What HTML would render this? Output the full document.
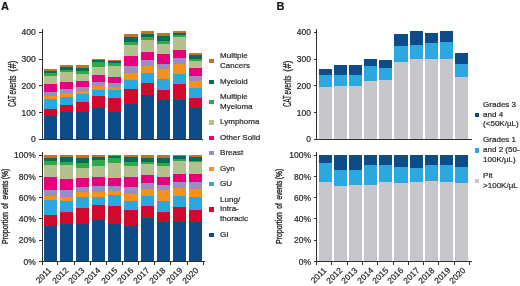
<!DOCTYPE html>
<html><head><meta charset="utf-8"><style>
html,body{margin:0;padding:0;background:#fff;}
body{width:520px;height:286px;position:relative;overflow:hidden;font-family:"Liberation Sans", sans-serif;}
#w{position:absolute;left:0;top:0;width:520px;height:286px;filter:blur(0.6px);}
#w>div{position:absolute;}
.t{font-size:8px;line-height:9.6px;color:#252525;white-space:nowrap;-webkit-text-stroke:0.2px #252525;}
</style></head><body><div id="w">
<div style="left:44.00px;top:69.05px;width:13.10px;height:70.25px;background:#c1722b;"></div>
<div style="left:44.00px;top:70.90px;width:13.10px;height:68.40px;background:#086a58;"></div>
<div style="left:44.00px;top:72.60px;width:13.10px;height:66.70px;background:#2fa84a;"></div>
<div style="left:44.00px;top:75.60px;width:13.10px;height:63.70px;background:#b4c18e;"></div>
<div style="left:44.00px;top:83.90px;width:13.10px;height:55.40px;background:#e5007d;"></div>
<div style="left:44.00px;top:92.00px;width:13.10px;height:47.30px;background:#998dc2;"></div>
<div style="left:44.00px;top:95.60px;width:13.10px;height:43.70px;background:#f5921e;"></div>
<div style="left:44.00px;top:98.80px;width:13.10px;height:40.50px;background:#2aa8df;"></div>
<div style="left:44.00px;top:108.60px;width:13.10px;height:30.70px;background:#d10a2d;"></div>
<div style="left:44.00px;top:115.90px;width:13.10px;height:23.40px;background:#0e4c89;"></div>
<div style="left:60.20px;top:64.70px;width:12.80px;height:74.60px;background:#c1722b;"></div>
<div style="left:60.20px;top:66.50px;width:12.80px;height:72.80px;background:#086a58;"></div>
<div style="left:60.20px;top:69.70px;width:12.80px;height:69.60px;background:#2fa84a;"></div>
<div style="left:60.20px;top:71.80px;width:12.80px;height:67.50px;background:#b4c18e;"></div>
<div style="left:60.20px;top:81.60px;width:12.80px;height:57.70px;background:#e5007d;"></div>
<div style="left:60.20px;top:89.20px;width:12.80px;height:50.10px;background:#998dc2;"></div>
<div style="left:60.20px;top:93.40px;width:12.80px;height:45.90px;background:#f5921e;"></div>
<div style="left:60.20px;top:97.00px;width:12.80px;height:42.30px;background:#2aa8df;"></div>
<div style="left:60.20px;top:104.60px;width:12.80px;height:34.70px;background:#d10a2d;"></div>
<div style="left:60.20px;top:112.40px;width:12.80px;height:26.90px;background:#0e4c89;"></div>
<div style="left:76.10px;top:65.20px;width:13.30px;height:74.10px;background:#c1722b;"></div>
<div style="left:76.10px;top:67.50px;width:13.30px;height:71.80px;background:#086a58;"></div>
<div style="left:76.10px;top:70.90px;width:13.30px;height:68.40px;background:#2fa84a;"></div>
<div style="left:76.10px;top:74.10px;width:13.30px;height:65.20px;background:#b4c18e;"></div>
<div style="left:76.10px;top:81.40px;width:13.30px;height:57.90px;background:#e5007d;"></div>
<div style="left:76.10px;top:87.30px;width:13.30px;height:52.00px;background:#998dc2;"></div>
<div style="left:76.10px;top:90.80px;width:13.30px;height:48.50px;background:#f5921e;"></div>
<div style="left:76.10px;top:94.30px;width:13.30px;height:45.00px;background:#2aa8df;"></div>
<div style="left:76.10px;top:102.10px;width:13.30px;height:37.20px;background:#d10a2d;"></div>
<div style="left:76.10px;top:112.40px;width:13.30px;height:26.90px;background:#0e4c89;"></div>
<div style="left:92.00px;top:58.80px;width:13.10px;height:80.50px;background:#c1722b;"></div>
<div style="left:92.00px;top:59.80px;width:13.10px;height:79.50px;background:#086a58;"></div>
<div style="left:92.00px;top:62.30px;width:13.10px;height:77.00px;background:#2fa84a;"></div>
<div style="left:92.00px;top:67.00px;width:13.10px;height:72.30px;background:#b4c18e;"></div>
<div style="left:92.00px;top:75.20px;width:13.10px;height:64.10px;background:#e5007d;"></div>
<div style="left:92.00px;top:82.20px;width:13.10px;height:57.10px;background:#998dc2;"></div>
<div style="left:92.00px;top:86.40px;width:13.10px;height:52.90px;background:#f5921e;"></div>
<div style="left:92.00px;top:90.40px;width:13.10px;height:48.90px;background:#2aa8df;"></div>
<div style="left:92.00px;top:96.00px;width:13.10px;height:43.30px;background:#d10a2d;"></div>
<div style="left:92.00px;top:107.70px;width:13.10px;height:31.60px;background:#0e4c89;"></div>
<div style="left:107.80px;top:60.10px;width:13.40px;height:79.20px;background:#c1722b;"></div>
<div style="left:107.80px;top:61.30px;width:13.40px;height:78.00px;background:#086a58;"></div>
<div style="left:107.80px;top:62.60px;width:13.40px;height:76.70px;background:#2fa84a;"></div>
<div style="left:107.80px;top:66.10px;width:13.40px;height:73.20px;background:#b4c18e;"></div>
<div style="left:107.80px;top:77.10px;width:13.40px;height:62.20px;background:#e5007d;"></div>
<div style="left:107.80px;top:83.20px;width:13.40px;height:56.10px;background:#998dc2;"></div>
<div style="left:107.80px;top:86.60px;width:13.40px;height:52.70px;background:#f5921e;"></div>
<div style="left:107.80px;top:90.00px;width:13.40px;height:49.30px;background:#2aa8df;"></div>
<div style="left:107.80px;top:97.90px;width:13.40px;height:41.40px;background:#d10a2d;"></div>
<div style="left:107.80px;top:112.00px;width:13.40px;height:27.30px;background:#0e4c89;"></div>
<div style="left:124.00px;top:34.30px;width:13.70px;height:105.00px;background:#c1722b;"></div>
<div style="left:124.00px;top:37.40px;width:13.70px;height:101.90px;background:#086a58;"></div>
<div style="left:124.00px;top:41.60px;width:13.70px;height:97.70px;background:#2fa84a;"></div>
<div style="left:124.00px;top:45.10px;width:13.70px;height:94.20px;background:#b4c18e;"></div>
<div style="left:124.00px;top:56.00px;width:13.70px;height:83.30px;background:#e5007d;"></div>
<div style="left:124.00px;top:66.10px;width:13.70px;height:73.20px;background:#998dc2;"></div>
<div style="left:124.00px;top:73.30px;width:13.70px;height:66.00px;background:#f5921e;"></div>
<div style="left:124.00px;top:79.60px;width:13.70px;height:59.70px;background:#2aa8df;"></div>
<div style="left:124.00px;top:89.10px;width:13.70px;height:50.20px;background:#d10a2d;"></div>
<div style="left:124.00px;top:103.80px;width:13.70px;height:35.50px;background:#0e4c89;"></div>
<div style="left:140.80px;top:31.40px;width:13.00px;height:107.90px;background:#c1722b;"></div>
<div style="left:140.80px;top:34.00px;width:13.00px;height:105.30px;background:#086a58;"></div>
<div style="left:140.80px;top:37.40px;width:13.00px;height:101.90px;background:#2fa84a;"></div>
<div style="left:140.80px;top:39.60px;width:13.00px;height:99.70px;background:#b4c18e;"></div>
<div style="left:140.80px;top:51.90px;width:13.00px;height:87.40px;background:#e5007d;"></div>
<div style="left:140.80px;top:59.90px;width:13.00px;height:79.40px;background:#998dc2;"></div>
<div style="left:140.80px;top:66.10px;width:13.00px;height:73.20px;background:#f5921e;"></div>
<div style="left:140.80px;top:73.30px;width:13.00px;height:66.00px;background:#2aa8df;"></div>
<div style="left:140.80px;top:82.70px;width:13.00px;height:56.60px;background:#d10a2d;"></div>
<div style="left:140.80px;top:94.60px;width:13.00px;height:44.70px;background:#0e4c89;"></div>
<div style="left:156.90px;top:32.90px;width:12.90px;height:106.40px;background:#c1722b;"></div>
<div style="left:156.90px;top:35.80px;width:12.90px;height:103.50px;background:#086a58;"></div>
<div style="left:156.90px;top:40.60px;width:12.90px;height:98.70px;background:#2fa84a;"></div>
<div style="left:156.90px;top:43.70px;width:12.90px;height:95.60px;background:#b4c18e;"></div>
<div style="left:156.90px;top:53.80px;width:12.90px;height:85.50px;background:#e5007d;"></div>
<div style="left:156.90px;top:63.50px;width:12.90px;height:75.80px;background:#998dc2;"></div>
<div style="left:156.90px;top:69.10px;width:12.90px;height:70.20px;background:#f5921e;"></div>
<div style="left:156.90px;top:79.40px;width:12.90px;height:59.90px;background:#2aa8df;"></div>
<div style="left:156.90px;top:89.50px;width:12.90px;height:49.80px;background:#d10a2d;"></div>
<div style="left:156.90px;top:100.00px;width:12.90px;height:39.30px;background:#0e4c89;"></div>
<div style="left:172.80px;top:31.40px;width:13.00px;height:107.90px;background:#c1722b;"></div>
<div style="left:172.80px;top:32.80px;width:13.00px;height:106.50px;background:#086a58;"></div>
<div style="left:172.80px;top:35.30px;width:13.00px;height:104.00px;background:#2fa84a;"></div>
<div style="left:172.80px;top:37.40px;width:13.00px;height:101.90px;background:#b4c18e;"></div>
<div style="left:172.80px;top:50.00px;width:13.00px;height:89.30px;background:#e5007d;"></div>
<div style="left:172.80px;top:58.30px;width:13.00px;height:81.00px;background:#998dc2;"></div>
<div style="left:172.80px;top:64.40px;width:13.00px;height:74.90px;background:#f5921e;"></div>
<div style="left:172.80px;top:73.60px;width:13.00px;height:65.70px;background:#2aa8df;"></div>
<div style="left:172.80px;top:84.30px;width:13.00px;height:55.00px;background:#d10a2d;"></div>
<div style="left:172.80px;top:99.90px;width:13.00px;height:39.40px;background:#0e4c89;"></div>
<div style="left:188.90px;top:53.35px;width:12.90px;height:85.95px;background:#c1722b;"></div>
<div style="left:188.90px;top:55.10px;width:12.90px;height:84.20px;background:#086a58;"></div>
<div style="left:188.90px;top:58.90px;width:12.90px;height:80.40px;background:#2fa84a;"></div>
<div style="left:188.90px;top:60.50px;width:12.90px;height:78.80px;background:#b4c18e;"></div>
<div style="left:188.90px;top:68.20px;width:12.90px;height:71.10px;background:#e5007d;"></div>
<div style="left:188.90px;top:76.40px;width:12.90px;height:62.90px;background:#998dc2;"></div>
<div style="left:188.90px;top:81.00px;width:12.90px;height:58.30px;background:#f5921e;"></div>
<div style="left:188.90px;top:87.80px;width:12.90px;height:51.50px;background:#2aa8df;"></div>
<div style="left:188.90px;top:97.60px;width:12.90px;height:41.70px;background:#d10a2d;"></div>
<div style="left:188.90px;top:107.70px;width:12.90px;height:31.60px;background:#0e4c89;"></div>
<div style="left:41.51px;top:29.40px;width:1.10px;height:110.40px;background:#303030;"></div>
<div style="left:39.06px;top:138.80px;width:3.00px;height:1.00px;background:#303030;"></div>
<div class="t" style="left:5.80px;top:135.30px;width:30px;text-align:right;font-size:8.5px;">0</div>
<div style="left:39.06px;top:112.05px;width:3.00px;height:1.00px;background:#303030;"></div>
<div class="t" style="left:5.80px;top:108.55px;width:30px;text-align:right;font-size:8.5px;">100</div>
<div style="left:39.06px;top:85.30px;width:3.00px;height:1.00px;background:#303030;"></div>
<div class="t" style="left:5.80px;top:81.80px;width:30px;text-align:right;font-size:8.5px;">200</div>
<div style="left:39.06px;top:58.55px;width:3.00px;height:1.00px;background:#303030;"></div>
<div class="t" style="left:5.80px;top:55.05px;width:30px;text-align:right;font-size:8.5px;">300</div>
<div style="left:39.06px;top:31.80px;width:3.00px;height:1.00px;background:#303030;"></div>
<div class="t" style="left:5.80px;top:28.30px;width:30px;text-align:right;font-size:8.5px;">400</div>
<div style="left:39.06px;top:138.70px;width:164.34px;height:1.00px;background:#303030;"></div>
<div style="left:44.00px;top:155.00px;width:13.10px;height:106.60px;background:#c1722b;"></div>
<div style="left:44.00px;top:157.70px;width:13.10px;height:103.90px;background:#086a58;"></div>
<div style="left:44.00px;top:161.20px;width:13.10px;height:100.40px;background:#2fa84a;"></div>
<div style="left:44.00px;top:164.60px;width:13.10px;height:97.00px;background:#b4c18e;"></div>
<div style="left:44.00px;top:176.90px;width:13.10px;height:84.70px;background:#e5007d;"></div>
<div style="left:44.00px;top:189.60px;width:13.10px;height:72.00px;background:#998dc2;"></div>
<div style="left:44.00px;top:195.90px;width:13.10px;height:65.70px;background:#f5921e;"></div>
<div style="left:44.00px;top:200.00px;width:13.10px;height:61.60px;background:#2aa8df;"></div>
<div style="left:44.00px;top:214.90px;width:13.10px;height:46.70px;background:#d10a2d;"></div>
<div style="left:44.00px;top:225.80px;width:13.10px;height:35.80px;background:#0e4c89;"></div>
<div style="left:60.20px;top:155.00px;width:12.80px;height:106.60px;background:#c1722b;"></div>
<div style="left:60.20px;top:157.00px;width:12.80px;height:104.60px;background:#086a58;"></div>
<div style="left:60.20px;top:161.80px;width:12.80px;height:99.80px;background:#2fa84a;"></div>
<div style="left:60.20px;top:164.60px;width:12.80px;height:97.00px;background:#b4c18e;"></div>
<div style="left:60.20px;top:178.60px;width:12.80px;height:83.00px;background:#e5007d;"></div>
<div style="left:60.20px;top:189.90px;width:12.80px;height:71.70px;background:#998dc2;"></div>
<div style="left:60.20px;top:196.60px;width:12.80px;height:65.00px;background:#f5921e;"></div>
<div style="left:60.20px;top:201.20px;width:12.80px;height:60.40px;background:#2aa8df;"></div>
<div style="left:60.20px;top:212.00px;width:12.80px;height:49.60px;background:#d10a2d;"></div>
<div style="left:60.20px;top:223.90px;width:12.80px;height:37.70px;background:#0e4c89;"></div>
<div style="left:76.10px;top:155.00px;width:13.30px;height:106.60px;background:#c1722b;"></div>
<div style="left:76.10px;top:158.30px;width:13.30px;height:103.30px;background:#086a58;"></div>
<div style="left:76.10px;top:163.30px;width:13.30px;height:98.30px;background:#2fa84a;"></div>
<div style="left:76.10px;top:167.70px;width:13.30px;height:93.90px;background:#b4c18e;"></div>
<div style="left:76.10px;top:177.80px;width:13.30px;height:83.80px;background:#e5007d;"></div>
<div style="left:76.10px;top:187.40px;width:13.30px;height:74.20px;background:#998dc2;"></div>
<div style="left:76.10px;top:191.90px;width:13.30px;height:69.70px;background:#f5921e;"></div>
<div style="left:76.10px;top:196.60px;width:13.30px;height:65.00px;background:#2aa8df;"></div>
<div style="left:76.10px;top:208.20px;width:13.30px;height:53.40px;background:#d10a2d;"></div>
<div style="left:76.10px;top:223.90px;width:13.30px;height:37.70px;background:#0e4c89;"></div>
<div style="left:92.00px;top:155.00px;width:13.10px;height:106.60px;background:#c1722b;"></div>
<div style="left:92.00px;top:156.80px;width:13.10px;height:104.80px;background:#086a58;"></div>
<div style="left:92.00px;top:159.80px;width:13.10px;height:101.80px;background:#2fa84a;"></div>
<div style="left:92.00px;top:165.60px;width:13.10px;height:96.00px;background:#b4c18e;"></div>
<div style="left:92.00px;top:176.70px;width:13.10px;height:84.90px;background:#e5007d;"></div>
<div style="left:92.00px;top:186.20px;width:13.10px;height:75.40px;background:#998dc2;"></div>
<div style="left:92.00px;top:191.50px;width:13.10px;height:70.10px;background:#f5921e;"></div>
<div style="left:92.00px;top:196.60px;width:13.10px;height:65.00px;background:#2aa8df;"></div>
<div style="left:92.00px;top:204.80px;width:13.10px;height:56.80px;background:#d10a2d;"></div>
<div style="left:92.00px;top:219.90px;width:13.10px;height:41.70px;background:#0e4c89;"></div>
<div style="left:107.80px;top:155.00px;width:13.40px;height:106.60px;background:#c1722b;"></div>
<div style="left:107.80px;top:156.00px;width:13.40px;height:105.60px;background:#086a58;"></div>
<div style="left:107.80px;top:157.70px;width:13.40px;height:103.90px;background:#2fa84a;"></div>
<div style="left:107.80px;top:162.70px;width:13.40px;height:98.90px;background:#b4c18e;"></div>
<div style="left:107.80px;top:177.80px;width:13.40px;height:83.80px;background:#e5007d;"></div>
<div style="left:107.80px;top:186.10px;width:13.40px;height:75.50px;background:#998dc2;"></div>
<div style="left:107.80px;top:190.90px;width:13.40px;height:70.70px;background:#f5921e;"></div>
<div style="left:107.80px;top:194.70px;width:13.40px;height:66.90px;background:#2aa8df;"></div>
<div style="left:107.80px;top:205.80px;width:13.40px;height:55.80px;background:#d10a2d;"></div>
<div style="left:107.80px;top:223.90px;width:13.40px;height:37.70px;background:#0e4c89;"></div>
<div style="left:124.00px;top:155.00px;width:13.70px;height:106.60px;background:#c1722b;"></div>
<div style="left:124.00px;top:156.80px;width:13.70px;height:104.80px;background:#086a58;"></div>
<div style="left:124.00px;top:161.80px;width:13.70px;height:99.80px;background:#2fa84a;"></div>
<div style="left:124.00px;top:165.60px;width:13.70px;height:96.00px;background:#b4c18e;"></div>
<div style="left:124.00px;top:176.70px;width:13.70px;height:84.90px;background:#e5007d;"></div>
<div style="left:124.00px;top:186.60px;width:13.70px;height:75.00px;background:#998dc2;"></div>
<div style="left:124.00px;top:194.40px;width:13.70px;height:67.20px;background:#f5921e;"></div>
<div style="left:124.00px;top:201.20px;width:13.70px;height:60.40px;background:#2aa8df;"></div>
<div style="left:124.00px;top:210.30px;width:13.70px;height:51.30px;background:#d10a2d;"></div>
<div style="left:124.00px;top:225.80px;width:13.70px;height:35.80px;background:#0e4c89;"></div>
<div style="left:140.80px;top:155.00px;width:13.00px;height:106.60px;background:#c1722b;"></div>
<div style="left:140.80px;top:157.70px;width:13.00px;height:103.90px;background:#086a58;"></div>
<div style="left:140.80px;top:162.10px;width:13.00px;height:99.50px;background:#2fa84a;"></div>
<div style="left:140.80px;top:164.30px;width:13.00px;height:97.30px;background:#b4c18e;"></div>
<div style="left:140.80px;top:175.20px;width:13.00px;height:86.40px;background:#e5007d;"></div>
<div style="left:140.80px;top:182.80px;width:13.00px;height:78.80px;background:#998dc2;"></div>
<div style="left:140.80px;top:189.00px;width:13.00px;height:72.60px;background:#f5921e;"></div>
<div style="left:140.80px;top:196.20px;width:13.00px;height:65.40px;background:#2aa8df;"></div>
<div style="left:140.80px;top:205.60px;width:13.00px;height:56.00px;background:#d10a2d;"></div>
<div style="left:140.80px;top:217.60px;width:13.00px;height:44.00px;background:#0e4c89;"></div>
<div style="left:156.90px;top:155.00px;width:12.90px;height:106.60px;background:#c1722b;"></div>
<div style="left:156.90px;top:157.70px;width:12.90px;height:103.90px;background:#086a58;"></div>
<div style="left:156.90px;top:162.70px;width:12.90px;height:98.90px;background:#2fa84a;"></div>
<div style="left:156.90px;top:165.60px;width:12.90px;height:96.00px;background:#b4c18e;"></div>
<div style="left:156.90px;top:176.70px;width:12.90px;height:84.90px;background:#e5007d;"></div>
<div style="left:156.90px;top:184.80px;width:12.90px;height:76.80px;background:#998dc2;"></div>
<div style="left:156.90px;top:189.60px;width:12.90px;height:72.00px;background:#f5921e;"></div>
<div style="left:156.90px;top:201.20px;width:12.90px;height:60.40px;background:#2aa8df;"></div>
<div style="left:156.90px;top:211.60px;width:12.90px;height:50.00px;background:#d10a2d;"></div>
<div style="left:156.90px;top:222.40px;width:12.90px;height:39.20px;background:#0e4c89;"></div>
<div style="left:172.80px;top:155.00px;width:13.00px;height:106.60px;background:#c1722b;"></div>
<div style="left:172.80px;top:155.80px;width:13.00px;height:105.80px;background:#086a58;"></div>
<div style="left:172.80px;top:158.50px;width:13.00px;height:103.10px;background:#2fa84a;"></div>
<div style="left:172.80px;top:160.60px;width:13.00px;height:101.00px;background:#b4c18e;"></div>
<div style="left:172.80px;top:173.70px;width:13.00px;height:87.90px;background:#e5007d;"></div>
<div style="left:172.80px;top:182.00px;width:13.00px;height:79.60px;background:#998dc2;"></div>
<div style="left:172.80px;top:187.80px;width:13.00px;height:73.80px;background:#f5921e;"></div>
<div style="left:172.80px;top:196.40px;width:13.00px;height:65.20px;background:#2aa8df;"></div>
<div style="left:172.80px;top:207.20px;width:13.00px;height:54.40px;background:#d10a2d;"></div>
<div style="left:172.80px;top:222.40px;width:13.00px;height:39.20px;background:#0e4c89;"></div>
<div style="left:188.90px;top:155.00px;width:12.90px;height:106.60px;background:#c1722b;"></div>
<div style="left:188.90px;top:156.80px;width:12.90px;height:104.80px;background:#086a58;"></div>
<div style="left:188.90px;top:161.40px;width:12.90px;height:100.20px;background:#2fa84a;"></div>
<div style="left:188.90px;top:162.30px;width:12.90px;height:99.30px;background:#b4c18e;"></div>
<div style="left:188.90px;top:173.70px;width:12.90px;height:87.90px;background:#e5007d;"></div>
<div style="left:188.90px;top:182.20px;width:12.90px;height:79.40px;background:#998dc2;"></div>
<div style="left:188.90px;top:189.40px;width:12.90px;height:72.20px;background:#f5921e;"></div>
<div style="left:188.90px;top:197.00px;width:12.90px;height:64.60px;background:#2aa8df;"></div>
<div style="left:188.90px;top:210.00px;width:12.90px;height:51.60px;background:#d10a2d;"></div>
<div style="left:188.90px;top:222.20px;width:12.90px;height:39.40px;background:#0e4c89;"></div>
<div style="left:41.51px;top:152.00px;width:1.10px;height:110.10px;background:#303030;"></div>
<div style="left:39.06px;top:261.10px;width:3.00px;height:1.00px;background:#303030;"></div>
<div class="t" style="left:5.80px;top:257.80px;width:30px;text-align:right;font-size:8.5px;">0%</div>
<div style="left:39.06px;top:239.78px;width:3.00px;height:1.00px;background:#303030;"></div>
<div class="t" style="left:5.80px;top:236.48px;width:30px;text-align:right;font-size:8.5px;">20%</div>
<div style="left:39.06px;top:218.46px;width:3.00px;height:1.00px;background:#303030;"></div>
<div class="t" style="left:5.80px;top:215.16px;width:30px;text-align:right;font-size:8.5px;">40%</div>
<div style="left:39.06px;top:197.14px;width:3.00px;height:1.00px;background:#303030;"></div>
<div class="t" style="left:5.80px;top:193.84px;width:30px;text-align:right;font-size:8.5px;">60%</div>
<div style="left:39.06px;top:175.82px;width:3.00px;height:1.00px;background:#303030;"></div>
<div class="t" style="left:5.80px;top:172.52px;width:30px;text-align:right;font-size:8.5px;">80%</div>
<div style="left:39.06px;top:154.50px;width:3.00px;height:1.00px;background:#303030;"></div>
<div class="t" style="left:5.80px;top:151.20px;width:30px;text-align:right;font-size:8.5px;">100%</div>
<div style="left:39.06px;top:261.05px;width:166.04px;height:1.10px;background:#303030;"></div>
<div style="left:41.56px;top:261.60px;width:1.00px;height:3.00px;background:#303030;"></div>
<div style="left:57.49px;top:261.60px;width:1.00px;height:3.00px;background:#303030;"></div>
<div style="left:73.63px;top:261.60px;width:1.00px;height:3.00px;background:#303030;"></div>
<div style="left:89.76px;top:261.60px;width:1.00px;height:3.00px;background:#303030;"></div>
<div style="left:105.89px;top:261.60px;width:1.00px;height:3.00px;background:#303030;"></div>
<div style="left:122.02px;top:261.60px;width:1.00px;height:3.00px;background:#303030;"></div>
<div style="left:138.16px;top:261.60px;width:1.00px;height:3.00px;background:#303030;"></div>
<div style="left:154.29px;top:261.60px;width:1.00px;height:3.00px;background:#303030;"></div>
<div style="left:170.42px;top:261.60px;width:1.00px;height:3.00px;background:#303030;"></div>
<div style="left:186.56px;top:261.60px;width:1.00px;height:3.00px;background:#303030;"></div>
<div style="left:202.69px;top:261.60px;width:1.00px;height:3.00px;background:#303030;"></div>
<div class="t" style="left:7.40px;top:265.90px;width:40px;text-align:right;transform-origin:100% 0;transform:rotate(-45deg);font-size:8.4px;line-height:8px;">2011</div>
<div class="t" style="left:23.69px;top:265.90px;width:40px;text-align:right;transform-origin:100% 0;transform:rotate(-45deg);font-size:8.4px;line-height:8px;">2012</div>
<div class="t" style="left:39.98px;top:265.90px;width:40px;text-align:right;transform-origin:100% 0;transform:rotate(-45deg);font-size:8.4px;line-height:8px;">2013</div>
<div class="t" style="left:56.27px;top:265.90px;width:40px;text-align:right;transform-origin:100% 0;transform:rotate(-45deg);font-size:8.4px;line-height:8px;">2014</div>
<div class="t" style="left:72.56px;top:265.90px;width:40px;text-align:right;transform-origin:100% 0;transform:rotate(-45deg);font-size:8.4px;line-height:8px;">2015</div>
<div class="t" style="left:88.85px;top:265.90px;width:40px;text-align:right;transform-origin:100% 0;transform:rotate(-45deg);font-size:8.4px;line-height:8px;">2016</div>
<div class="t" style="left:105.14px;top:265.90px;width:40px;text-align:right;transform-origin:100% 0;transform:rotate(-45deg);font-size:8.4px;line-height:8px;">2017</div>
<div class="t" style="left:121.43px;top:265.90px;width:40px;text-align:right;transform-origin:100% 0;transform:rotate(-45deg);font-size:8.4px;line-height:8px;">2018</div>
<div class="t" style="left:137.72px;top:265.90px;width:40px;text-align:right;transform-origin:100% 0;transform:rotate(-45deg);font-size:8.4px;line-height:8px;">2019</div>
<div class="t" style="left:154.01px;top:265.90px;width:40px;text-align:right;transform-origin:100% 0;transform:rotate(-45deg);font-size:8.4px;line-height:8px;">2020</div>
<div style="left:318.60px;top:69.05px;width:13.15px;height:70.25px;background:#0e4c89;"></div>
<div style="left:318.60px;top:74.50px;width:13.15px;height:64.80px;background:#2aa8df;"></div>
<div style="left:318.60px;top:86.50px;width:13.15px;height:52.80px;background:#c8c6cd;"></div>
<div style="left:333.75px;top:64.70px;width:13.15px;height:74.60px;background:#0e4c89;"></div>
<div style="left:333.75px;top:74.90px;width:13.15px;height:64.40px;background:#2aa8df;"></div>
<div style="left:333.75px;top:86.20px;width:13.15px;height:53.10px;background:#c8c6cd;"></div>
<div style="left:348.90px;top:65.20px;width:13.10px;height:74.10px;background:#0e4c89;"></div>
<div style="left:348.90px;top:75.40px;width:13.10px;height:63.90px;background:#2aa8df;"></div>
<div style="left:348.90px;top:85.90px;width:13.10px;height:53.40px;background:#c8c6cd;"></div>
<div style="left:364.00px;top:58.80px;width:13.20px;height:80.50px;background:#0e4c89;"></div>
<div style="left:364.00px;top:66.10px;width:13.20px;height:73.20px;background:#2aa8df;"></div>
<div style="left:364.00px;top:80.80px;width:13.20px;height:58.50px;background:#c8c6cd;"></div>
<div style="left:379.20px;top:60.10px;width:13.05px;height:79.20px;background:#0e4c89;"></div>
<div style="left:379.20px;top:67.90px;width:13.05px;height:71.40px;background:#2aa8df;"></div>
<div style="left:379.20px;top:80.20px;width:13.05px;height:59.10px;background:#c8c6cd;"></div>
<div style="left:394.25px;top:34.30px;width:13.50px;height:105.00px;background:#0e4c89;"></div>
<div style="left:394.25px;top:45.80px;width:13.50px;height:93.50px;background:#2aa8df;"></div>
<div style="left:394.25px;top:62.00px;width:13.50px;height:77.30px;background:#c8c6cd;"></div>
<div style="left:409.75px;top:31.40px;width:13.25px;height:107.90px;background:#0e4c89;"></div>
<div style="left:409.75px;top:44.50px;width:13.25px;height:94.80px;background:#2aa8df;"></div>
<div style="left:409.75px;top:58.80px;width:13.25px;height:80.50px;background:#c8c6cd;"></div>
<div style="left:425.00px;top:32.90px;width:12.90px;height:106.40px;background:#0e4c89;"></div>
<div style="left:425.00px;top:42.90px;width:12.90px;height:96.40px;background:#2aa8df;"></div>
<div style="left:425.00px;top:59.00px;width:12.90px;height:80.30px;background:#c8c6cd;"></div>
<div style="left:439.90px;top:31.40px;width:12.90px;height:107.90px;background:#0e4c89;"></div>
<div style="left:439.90px;top:42.00px;width:12.90px;height:97.30px;background:#2aa8df;"></div>
<div style="left:439.90px;top:58.50px;width:12.90px;height:80.80px;background:#c8c6cd;"></div>
<div style="left:454.80px;top:53.35px;width:13.50px;height:85.95px;background:#0e4c89;"></div>
<div style="left:454.80px;top:63.60px;width:13.50px;height:75.70px;background:#2aa8df;"></div>
<div style="left:454.80px;top:76.70px;width:13.50px;height:62.60px;background:#c8c6cd;"></div>
<div style="left:316.40px;top:29.40px;width:1.10px;height:110.40px;background:#303030;"></div>
<div style="left:313.95px;top:138.80px;width:3.00px;height:1.00px;background:#303030;"></div>
<div class="t" style="left:281.00px;top:135.30px;width:30px;text-align:right;font-size:8.5px;">0</div>
<div style="left:313.95px;top:112.05px;width:3.00px;height:1.00px;background:#303030;"></div>
<div class="t" style="left:281.00px;top:108.55px;width:30px;text-align:right;font-size:8.5px;">100</div>
<div style="left:313.95px;top:85.30px;width:3.00px;height:1.00px;background:#303030;"></div>
<div class="t" style="left:281.00px;top:81.80px;width:30px;text-align:right;font-size:8.5px;">200</div>
<div style="left:313.95px;top:58.55px;width:3.00px;height:1.00px;background:#303030;"></div>
<div class="t" style="left:281.00px;top:55.05px;width:30px;text-align:right;font-size:8.5px;">300</div>
<div style="left:313.95px;top:31.80px;width:3.00px;height:1.00px;background:#303030;"></div>
<div class="t" style="left:281.00px;top:28.30px;width:30px;text-align:right;font-size:8.5px;">400</div>
<div style="left:313.95px;top:138.70px;width:157.75px;height:1.00px;background:#303030;"></div>
<div style="left:318.60px;top:155.00px;width:13.15px;height:106.60px;background:#0e4c89;"></div>
<div style="left:318.60px;top:163.40px;width:13.15px;height:98.20px;background:#2aa8df;"></div>
<div style="left:318.60px;top:182.30px;width:13.15px;height:79.30px;background:#c8c6cd;"></div>
<div style="left:333.75px;top:155.00px;width:13.15px;height:106.60px;background:#0e4c89;"></div>
<div style="left:333.75px;top:169.70px;width:13.15px;height:91.90px;background:#2aa8df;"></div>
<div style="left:333.75px;top:186.20px;width:13.15px;height:75.40px;background:#c8c6cd;"></div>
<div style="left:348.90px;top:155.00px;width:13.10px;height:106.60px;background:#0e4c89;"></div>
<div style="left:348.90px;top:170.20px;width:13.10px;height:91.40px;background:#2aa8df;"></div>
<div style="left:348.90px;top:185.00px;width:13.10px;height:76.60px;background:#c8c6cd;"></div>
<div style="left:364.00px;top:155.00px;width:13.20px;height:106.60px;background:#0e4c89;"></div>
<div style="left:364.00px;top:164.50px;width:13.20px;height:97.10px;background:#2aa8df;"></div>
<div style="left:364.00px;top:184.60px;width:13.20px;height:77.00px;background:#c8c6cd;"></div>
<div style="left:379.20px;top:155.00px;width:13.05px;height:106.60px;background:#0e4c89;"></div>
<div style="left:379.20px;top:165.00px;width:13.05px;height:96.60px;background:#2aa8df;"></div>
<div style="left:379.20px;top:182.30px;width:13.05px;height:79.30px;background:#c8c6cd;"></div>
<div style="left:394.25px;top:155.00px;width:13.50px;height:106.60px;background:#0e4c89;"></div>
<div style="left:394.25px;top:166.50px;width:13.50px;height:95.10px;background:#2aa8df;"></div>
<div style="left:394.25px;top:182.80px;width:13.50px;height:78.80px;background:#c8c6cd;"></div>
<div style="left:409.75px;top:155.00px;width:13.25px;height:106.60px;background:#0e4c89;"></div>
<div style="left:409.75px;top:167.60px;width:13.25px;height:94.00px;background:#2aa8df;"></div>
<div style="left:409.75px;top:181.50px;width:13.25px;height:80.10px;background:#c8c6cd;"></div>
<div style="left:425.00px;top:155.00px;width:12.90px;height:106.60px;background:#0e4c89;"></div>
<div style="left:425.00px;top:165.00px;width:12.90px;height:96.60px;background:#2aa8df;"></div>
<div style="left:425.00px;top:181.20px;width:12.90px;height:80.40px;background:#c8c6cd;"></div>
<div style="left:439.90px;top:155.00px;width:12.90px;height:106.60px;background:#0e4c89;"></div>
<div style="left:439.90px;top:165.40px;width:12.90px;height:96.20px;background:#2aa8df;"></div>
<div style="left:439.90px;top:181.50px;width:12.90px;height:80.10px;background:#c8c6cd;"></div>
<div style="left:454.80px;top:155.00px;width:13.50px;height:106.60px;background:#0e4c89;"></div>
<div style="left:454.80px;top:167.30px;width:13.50px;height:94.30px;background:#2aa8df;"></div>
<div style="left:454.80px;top:183.40px;width:13.50px;height:78.20px;background:#c8c6cd;"></div>
<div style="left:316.40px;top:152.00px;width:1.10px;height:110.10px;background:#303030;"></div>
<div style="left:313.95px;top:261.10px;width:3.00px;height:1.00px;background:#303030;"></div>
<div class="t" style="left:281.00px;top:257.80px;width:30px;text-align:right;font-size:8.5px;">0%</div>
<div style="left:313.95px;top:239.78px;width:3.00px;height:1.00px;background:#303030;"></div>
<div class="t" style="left:281.00px;top:236.48px;width:30px;text-align:right;font-size:8.5px;">20%</div>
<div style="left:313.95px;top:218.46px;width:3.00px;height:1.00px;background:#303030;"></div>
<div class="t" style="left:281.00px;top:215.16px;width:30px;text-align:right;font-size:8.5px;">40%</div>
<div style="left:313.95px;top:197.14px;width:3.00px;height:1.00px;background:#303030;"></div>
<div class="t" style="left:281.00px;top:193.84px;width:30px;text-align:right;font-size:8.5px;">60%</div>
<div style="left:313.95px;top:175.82px;width:3.00px;height:1.00px;background:#303030;"></div>
<div class="t" style="left:281.00px;top:172.52px;width:30px;text-align:right;font-size:8.5px;">80%</div>
<div style="left:313.95px;top:154.50px;width:3.00px;height:1.00px;background:#303030;"></div>
<div class="t" style="left:281.00px;top:151.20px;width:30px;text-align:right;font-size:8.5px;">100%</div>
<div style="left:313.95px;top:261.05px;width:157.85px;height:1.10px;background:#303030;"></div>
<div style="left:316.45px;top:261.60px;width:1.00px;height:3.00px;background:#303030;"></div>
<div style="left:331.44px;top:261.60px;width:1.00px;height:3.00px;background:#303030;"></div>
<div style="left:346.74px;top:261.60px;width:1.00px;height:3.00px;background:#303030;"></div>
<div style="left:362.03px;top:261.60px;width:1.00px;height:3.00px;background:#303030;"></div>
<div style="left:377.32px;top:261.60px;width:1.00px;height:3.00px;background:#303030;"></div>
<div style="left:392.62px;top:261.60px;width:1.00px;height:3.00px;background:#303030;"></div>
<div style="left:407.91px;top:261.60px;width:1.00px;height:3.00px;background:#303030;"></div>
<div style="left:423.20px;top:261.60px;width:1.00px;height:3.00px;background:#303030;"></div>
<div style="left:438.49px;top:261.60px;width:1.00px;height:3.00px;background:#303030;"></div>
<div style="left:453.79px;top:261.60px;width:1.00px;height:3.00px;background:#303030;"></div>
<div style="left:469.08px;top:261.60px;width:1.00px;height:3.00px;background:#303030;"></div>
<div class="t" style="left:282.40px;top:265.90px;width:40px;text-align:right;transform-origin:100% 0;transform:rotate(-45deg);font-size:8.4px;line-height:8px;">2011</div>
<div class="t" style="left:297.80px;top:265.90px;width:40px;text-align:right;transform-origin:100% 0;transform:rotate(-45deg);font-size:8.4px;line-height:8px;">2012</div>
<div class="t" style="left:313.20px;top:265.90px;width:40px;text-align:right;transform-origin:100% 0;transform:rotate(-45deg);font-size:8.4px;line-height:8px;">2013</div>
<div class="t" style="left:328.60px;top:265.90px;width:40px;text-align:right;transform-origin:100% 0;transform:rotate(-45deg);font-size:8.4px;line-height:8px;">2014</div>
<div class="t" style="left:344.00px;top:265.90px;width:40px;text-align:right;transform-origin:100% 0;transform:rotate(-45deg);font-size:8.4px;line-height:8px;">2015</div>
<div class="t" style="left:359.40px;top:265.90px;width:40px;text-align:right;transform-origin:100% 0;transform:rotate(-45deg);font-size:8.4px;line-height:8px;">2016</div>
<div class="t" style="left:374.80px;top:265.90px;width:40px;text-align:right;transform-origin:100% 0;transform:rotate(-45deg);font-size:8.4px;line-height:8px;">2017</div>
<div class="t" style="left:390.20px;top:265.90px;width:40px;text-align:right;transform-origin:100% 0;transform:rotate(-45deg);font-size:8.4px;line-height:8px;">2018</div>
<div class="t" style="left:405.60px;top:265.90px;width:40px;text-align:right;transform-origin:100% 0;transform:rotate(-45deg);font-size:8.4px;line-height:8px;">2019</div>
<div class="t" style="left:421.00px;top:265.90px;width:40px;text-align:right;transform-origin:100% 0;transform:rotate(-45deg);font-size:8.4px;line-height:8px;">2020</div>
<div style="left:209.35px;top:59.15px;width:4.30px;height:4.30px;background:#c1722b;"></div>
<div class="t" style="left:220.10px;top:51.40px;line-height:9.8px;">Multiple<br>Cancers</div>
<div style="left:209.35px;top:79.51px;width:4.30px;height:4.30px;background:#086a58;"></div>
<div class="t" style="left:220.10px;top:76.66px;line-height:9.8px;">Myeloid</div>
<div style="left:209.35px;top:99.87px;width:4.30px;height:4.30px;background:#2fa84a;"></div>
<div class="t" style="left:220.10px;top:92.12px;line-height:9.8px;">Multiple<br>Myeloma</div>
<div style="left:209.35px;top:120.23px;width:4.30px;height:4.30px;background:#b4c18e;"></div>
<div class="t" style="left:220.10px;top:117.38px;line-height:9.8px;">Lymphoma</div>
<div style="left:209.35px;top:135.69px;width:4.30px;height:4.30px;background:#e5007d;"></div>
<div class="t" style="left:220.10px;top:132.84px;line-height:9.8px;">Other Solid</div>
<div style="left:209.35px;top:151.15px;width:4.30px;height:4.30px;background:#998dc2;"></div>
<div class="t" style="left:220.10px;top:148.30px;line-height:9.8px;">Breast</div>
<div style="left:209.35px;top:166.61px;width:4.30px;height:4.30px;background:#f5921e;"></div>
<div class="t" style="left:220.10px;top:163.76px;line-height:9.8px;">Gyn</div>
<div style="left:209.35px;top:182.07px;width:4.30px;height:4.30px;background:#2aa8df;"></div>
<div class="t" style="left:220.10px;top:179.22px;line-height:9.8px;">GU</div>
<div style="left:209.35px;top:207.33px;width:4.30px;height:4.30px;background:#d10a2d;"></div>
<div class="t" style="left:220.10px;top:194.68px;line-height:9.8px;">Lung/<br>Intra-<br>thoracic</div>
<div style="left:209.35px;top:232.59px;width:4.30px;height:4.30px;background:#0e4c89;"></div>
<div class="t" style="left:220.10px;top:229.74px;line-height:9.8px;">GI</div>
<div style="left:475.00px;top:112.70px;width:4.30px;height:4.30px;background:#0e4c89;"></div>
<div class="t" style="left:483.10px;top:99.80px;line-height:9.7px;">Grades 3<br>and 4<br>(&lt;50K/&micro;L)</div>
<div style="left:475.00px;top:148.30px;width:4.30px;height:4.30px;background:#2aa8df;"></div>
<div class="t" style="left:483.10px;top:135.40px;line-height:9.7px;">Grades 1<br>and 2 (50-<br>100K/&micro;L)</div>
<div style="left:475.00px;top:179.05px;width:4.30px;height:4.30px;background:#c8c6cd;"></div>
<div class="t" style="left:483.10px;top:171.00px;line-height:9.7px;">Plt<br>&gt;100K/&micro;L</div>
<div class="t" style="left:1.10px;top:-0.50px;font-weight:bold;font-size:11px;line-height:12px;color:#111;">A</div>
<div class="t" style="left:276.40px;top:-0.50px;font-weight:bold;font-size:11px;line-height:12px;color:#111;">B</div>
<div class="t" style="left:13.30px;top:101.30px;font-size:10px;line-height:10px;-webkit-text-stroke:0.3px #252525;transform:translate(-50%,-50%) rotate(-90deg) scaleX(0.592);">CAT</div>
<div class="t" style="left:13.30px;top:84.85px;font-size:10px;line-height:10px;-webkit-text-stroke:0.3px #252525;transform:translate(-50%,-50%) rotate(-90deg) scaleX(0.644);">events</div>
<div class="t" style="left:13.30px;top:66.15px;font-size:10px;line-height:10px;-webkit-text-stroke:0.3px #252525;transform:translate(-50%,-50%) rotate(-90deg) scaleX(0.92);">(#)</div>
<div class="t" style="left:5.50px;top:227.90px;font-size:8.2px;line-height:8.2px;-webkit-text-stroke:0.35px #252525;transform:translate(-50%,-50%) rotate(-90deg) scaleX(0.843);">Proportion</div>
<div class="t" style="left:5.50px;top:206.30px;font-size:8.2px;line-height:8.2px;-webkit-text-stroke:0.35px #252525;transform:translate(-50%,-50%) rotate(-90deg) scaleX(0.805);">of</div>
<div class="t" style="left:5.50px;top:190.40px;font-size:8.2px;line-height:8.2px;-webkit-text-stroke:0.35px #252525;transform:translate(-50%,-50%) rotate(-90deg) scaleX(0.778);">events</div>
<div class="t" style="left:5.50px;top:174.40px;font-size:8.2px;line-height:8.2px;-webkit-text-stroke:0.35px #252525;transform:translate(-50%,-50%) rotate(-90deg) scaleX(0.81);">(%)</div>
<div class="t" style="left:287.80px;top:101.30px;font-size:10px;line-height:10px;-webkit-text-stroke:0.3px #252525;transform:translate(-50%,-50%) rotate(-90deg) scaleX(0.592);">CAT</div>
<div class="t" style="left:287.80px;top:84.85px;font-size:10px;line-height:10px;-webkit-text-stroke:0.3px #252525;transform:translate(-50%,-50%) rotate(-90deg) scaleX(0.644);">events</div>
<div class="t" style="left:287.80px;top:66.15px;font-size:10px;line-height:10px;-webkit-text-stroke:0.3px #252525;transform:translate(-50%,-50%) rotate(-90deg) scaleX(0.92);">(#)</div>
<div class="t" style="left:280.00px;top:227.90px;font-size:8.2px;line-height:8.2px;-webkit-text-stroke:0.35px #252525;transform:translate(-50%,-50%) rotate(-90deg) scaleX(0.843);">Proportion</div>
<div class="t" style="left:280.00px;top:206.30px;font-size:8.2px;line-height:8.2px;-webkit-text-stroke:0.35px #252525;transform:translate(-50%,-50%) rotate(-90deg) scaleX(0.805);">of</div>
<div class="t" style="left:280.00px;top:190.40px;font-size:8.2px;line-height:8.2px;-webkit-text-stroke:0.35px #252525;transform:translate(-50%,-50%) rotate(-90deg) scaleX(0.778);">events</div>
<div class="t" style="left:280.00px;top:174.40px;font-size:8.2px;line-height:8.2px;-webkit-text-stroke:0.35px #252525;transform:translate(-50%,-50%) rotate(-90deg) scaleX(0.81);">(%)</div>
</div></body></html>
